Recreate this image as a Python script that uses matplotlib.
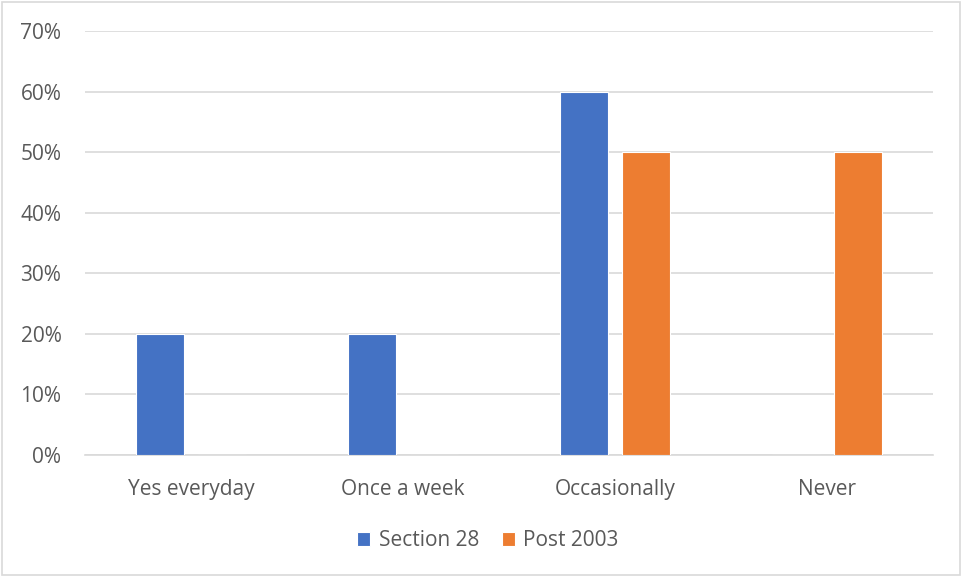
import matplotlib
matplotlib.use("Agg")
import matplotlib.pyplot as plt
import numpy as np
from matplotlib.patches import Rectangle

categories = ["Yes everyday", "Once a week", "Occasionally", "Never"]
section28 = [20, 20, 60, 0]
post2003 = [0, 0, 50, 50]
yticks = [0, 10, 20, 30, 40, 50, 60, 70]

plt.rcParams['font.family'] = ['Open Sans', 'DejaVu Sans']

fig = plt.figure(figsize=(9.63, 5.76), dpi=100)
ax = fig.add_axes([85/963, 1-455/576, (933-85)/963, (455-31)/576])

x = np.arange(len(categories))
w = 0.228
off = 0.147
blue = "#4472C4"
orange = "#ED7D31"
ax.bar(x - off, section28, w, color=blue, edgecolor="white", linewidth=0.8, label="Section 28", zorder=3)
ax.bar(x + off, post2003, w, color=orange, edgecolor="white", linewidth=0.8, label="Post 2003", zorder=3)

ax.set_xlim(-0.5, len(categories) - 0.5)
ax.set_ylim(0, 70)
ax.set_yticks(yticks)
ax.set_yticklabels([f"{v}%" for v in yticks])
ax.set_xticks(x)
ax.set_xticklabels(categories)
ax.grid(axis='y', color="#D9D9D9", linewidth=1.2, zorder=0)
for s in ['top', 'right', 'left']:
    ax.spines[s].set_visible(False)
ax.spines['bottom'].set_color("#D9D9D9")
ax.spines['bottom'].set_linewidth(1.2)
ax.tick_params(axis='both', length=0, colors="#595959", labelsize=15)
ax.tick_params(axis='y', pad=17)
ax.tick_params(axis='x', pad=17)

leg = fig.legend(loc='center', bbox_to_anchor=(488/963, 1-541/576), ncol=2, frameon=False,
                 fontsize=15, handlelength=0.63, handleheight=0.63, columnspacing=1.1, handletextpad=0.4)
for t in leg.get_texts():
    t.set_color("#595959")

fig.patches.append(Rectangle((2/963, 1/576), 958/963, 573/576, transform=fig.transFigure,
                             fill=False, edgecolor="#D9D9D9", linewidth=1.2))

fig.savefig("out.png", dpi=100)
